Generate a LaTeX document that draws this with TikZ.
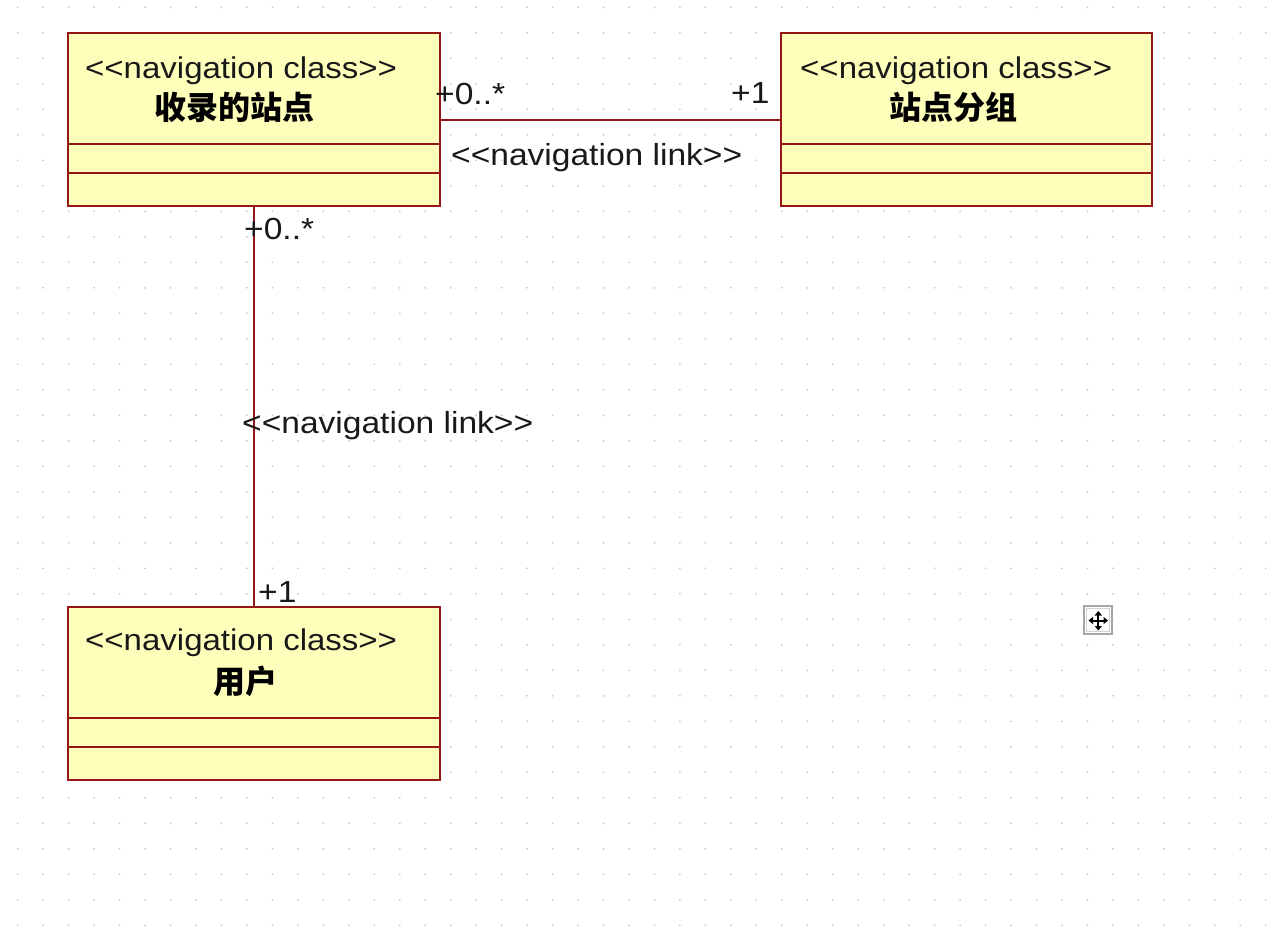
\documentclass[tikz,border=0pt]{standalone}
\usepackage{fontspec}
\newfontfamily\umlfont[FakeStretch=1.1]{Liberation Sans}
\newfontfamily\cjkfont{Noto Sans CJK SC}
\usetikzlibrary{calc,arrows.meta}
\definecolor{umlborder}{RGB}{150,22,22}
\definecolor{umlfill}{RGB}{255,255,188}
\definecolor{griddot}{RGB}{200,200,200}
\definecolor{umltext}{RGB}{25,25,25}
\begin{document}
\begin{tikzpicture}[x=1pt,y=-1pt,
  classbox/.style={draw=umlborder,fill=umlfill,line width=2pt,minimum width=372pt,minimum height=173pt,inner sep=0pt},
  sepline/.style={draw=umlborder,line width=2pt},
  conn/.style={draw=umlborder,line width=2pt},
  stereo/.style={anchor=base west,inner sep=0pt,text=umltext,font=\umlfont\fontsize{30}{36}\selectfont},
  cname/.style={anchor=center,inner sep=0pt,text=black,font=\cjkfont\bfseries\fontsize{32}{36}\selectfont},
  lbl/.style={anchor=base west,inner sep=0pt,text=umltext,font=\umlfont\fontsize{30.5}{36}\selectfont}
]
\useasboundingbox (0,0) rectangle (1275,927);
\fill[white] (0,0) rectangle (1275,927);
% grid dots
\foreach \i in {0,...,49}{
  \foreach \j in {0,...,36}{
    \fill[griddot] ({17.7+25.47*\i},{7.3+25.5*\j}) circle (1pt);
  }
}
% class boxes
\node[classbox] (b1) at (253.5,119.8) {};
\node[classbox,minimum width=371pt] (b2) at (966.5,119.8) {};
\node[classbox] (b3) at (253.5,693) {};
% compartments
\foreach \b in {b1,b2,b3}{
  \draw[sepline] ($(\b.north west)+(0,112)$) -- ($(\b.north east)+(0,112)$);
  \draw[sepline] ($(\b.north west)+(0,141)$) -- ($(\b.north east)+(0,141)$);
}
% texts inside boxes
\node[stereo] (s1) at (85,78) {<<navigation class>>};
\node[cname] (n1) at (234,107) {收录的站点};
\node[stereo] (s2) at (800,78) {<<navigation class>>};
\node[cname] (n2) at (953,107) {站点分组};
\node[stereo] (s3) at (85,650) {<<navigation class>>};
\node[cname] (n3) at (245,681) {用户};
% connectors
\draw[conn] (b1.east) -- (b2.west);
\draw[conn] (b1.south) -- (b3.north);
% connector labels
\node[lbl] (m1) at (435,104) {+0..*};
\node[lbl] (m2) at (731,103) {+1};
\node[lbl] (l1) at (451,165) {<<navigation link>>};
\node[lbl] (m3) at (244,239) {+0..*};
\node[lbl] (l2) at (242,433) {<<navigation link>>};
\node[lbl] (m4) at (258,602) {+1};
% move handle icon
\draw[gray!70,line width=1.4pt,fill=white] (1084,606) rectangle (1112,634);
\draw[gray!35,line width=0.8pt] (1086.5,608.5) rectangle (1109.5,631.5);
\draw[black,line width=2pt,{Triangle[length=4.5pt,width=7pt]}-{Triangle[length=4.5pt,width=7pt]}] (1088.5,620.5) -- (1108,620.5);
\draw[black,line width=2pt,{Triangle[length=4.5pt,width=7pt]}-{Triangle[length=4.5pt,width=7pt]}] (1098.3,611) -- (1098.3,630.5);
\end{tikzpicture}
\end{document}
